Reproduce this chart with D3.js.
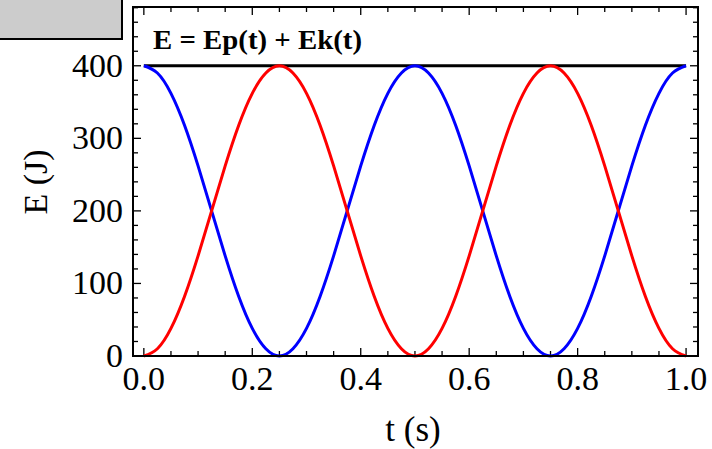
<!DOCTYPE html>
<html>
<head>
<meta charset="utf-8">
<script src="https://cdn.jsdelivr.net/npm/d3@7"></script>
<style>
  body { margin: 0; background: #fff; }
  svg { display: block; }
</style>
</head>
<body>
<svg id="chart" width="712" height="449"></svg>
<script>
// values, one every 0.025 s
var times = [0, 0.025, 0.05, 0.075, 0.1, 0.125, 0.15, 0.175, 0.2, 0.225,
    0.25, 0.275, 0.3, 0.325, 0.35, 0.375, 0.4, 0.425, 0.45, 0.475,
    0.5, 0.525, 0.55, 0.575, 0.6, 0.625, 0.65, 0.675, 0.7, 0.725,
    0.75, 0.775, 0.8, 0.825, 0.85, 0.875, 0.9, 0.925, 0.95, 0.975, 1.0];
var epValues = [400, 390, 362, 318, 262, 200, 138, 82, 38, 10,
    0, 10, 38, 82, 138, 200, 262, 318, 362, 390,
    400, 390, 362, 318, 262, 200, 138, 82, 38, 10,
    0, 10, 38, 82, 138, 200, 262, 318, 362, 390, 400];
var ekValues = [0, 10, 38, 82, 138, 200, 262, 318, 362, 390,
    400, 390, 362, 318, 262, 200, 138, 82, 38, 10,
    0, 10, 38, 82, 138, 200, 262, 318, 362, 390,
    400, 390, 362, 318, 262, 200, 138, 82, 38, 10, 0];
var totalValues = [400, 400];
var totalTimes = [0, 1];
var xTicks = [0, 0.2, 0.4, 0.6, 0.8, 1.0];
var yTicks = [0, 100, 200, 300, 400];
var titleText = "E = Ep(t) + Ek(t)";

var svg = d3.select("#chart");
var plotLeft = 133, plotRight = 698, plotTop = 7, plotBottom = 356;

var x = d3.scaleLinear().domain([-0.02, 1.022]).range([plotLeft, plotRight]);
var y = d3.scaleLinear().domain([0, 481]).range([plotBottom, plotTop]);

// grey box in the corner
svg.append("rect")
    .attr("x", -2).attr("y", -2)
    .attr("width", 124).attr("height", 41)
    .attr("fill", "#cccccc")
    .attr("stroke", "#000").attr("stroke-width", 2);

var serif = "'Liberation Serif', 'DejaVu Serif', serif";

// ticks, inward on all four sides
var xMinor = d3.range(0, 1.001, 0.05);
var yMinor = d3.range(0, 481, 20);

function isMajor(v, list) {
    return list.some(function (m) { return Math.abs(m - v) < 1e-6; });
}

var ticks = svg.append("g").attr("stroke", "#000").attr("stroke-width", 1.3);
xMinor.forEach(function (v) {
    var len = isMajor(v, xTicks) ? 8 : 5;
    ticks.append("line").attr("x1", x(v)).attr("x2", x(v))
        .attr("y1", plotBottom).attr("y2", plotBottom - len);
    ticks.append("line").attr("x1", x(v)).attr("x2", x(v))
        .attr("y1", plotTop).attr("y2", plotTop + len);
});
yMinor.forEach(function (v) {
    var len = isMajor(v, yTicks) ? 8 : 5;
    ticks.append("line").attr("y1", y(v)).attr("y2", y(v))
        .attr("x1", plotLeft).attr("x2", plotLeft + len);
    ticks.append("line").attr("y1", y(v)).attr("y2", y(v))
        .attr("x1", plotRight).attr("x2", plotRight - len);
});

// curves
var straight = d3.line()
    .x(function (d) { return x(d[0]); })
    .y(function (d) { return y(d[1]); });
var smooth = d3.line()
    .x(function (d) { return x(d[0]); })
    .y(function (d) { return y(d[1]); })
    .curve(d3.curveNatural);

svg.append("path")
    .datum(totalTimes.map(function (t, i) { return [t, totalValues[i]]; }))
    .attr("d", straight)
    .attr("fill", "none").attr("stroke", "#000").attr("stroke-width", 3);

svg.append("path")
    .datum(times.map(function (t, i) { return [t, epValues[i]]; }))
    .attr("d", smooth)
    .attr("fill", "none").attr("stroke", "#0000ff").attr("stroke-width", 3);

svg.append("path")
    .datum(times.map(function (t, i) { return [t, ekValues[i]]; }))
    .attr("d", smooth)
    .attr("fill", "none").attr("stroke", "#ff0000").attr("stroke-width", 3);

// frame
svg.append("rect")
    .attr("x", plotLeft).attr("y", plotTop)
    .attr("width", plotRight - plotLeft).attr("height", plotBottom - plotTop)
    .attr("fill", "none").attr("stroke", "#000").attr("stroke-width", 2);

// tick labels
svg.selectAll(".xl").data(xTicks).enter().append("text")
    .attr("x", function (d) { return x(d); })
    .attr("y", 390)
    .attr("text-anchor", "middle")
    .attr("font-family", serif).attr("font-size", 34)
    .text(function (d) { return d3.format(".1f")(d); });

svg.selectAll(".yl").data(yTicks).enter().append("text")
    .attr("x", 123)
    .attr("y", function (d) { return y(d) + 11; })
    .attr("text-anchor", "end")
    .attr("font-family", serif).attr("font-size", 34)
    .text(function (d) { return d; });

// axis titles
svg.append("text")
    .attr("transform", "translate(47,182) rotate(-90)")
    .attr("text-anchor", "middle")
    .attr("font-family", serif).attr("font-size", 34)
    .text("E (J)");

svg.append("text")
    .attr("x", 413).attr("y", 441)
    .attr("text-anchor", "middle")
    .attr("font-family", serif).attr("font-size", 35)
    .text("t (s)");

svg.append("text")
    .attr("x", 153).attr("y", 49)
    .attr("font-family", serif).attr("font-weight", "bold")
    .attr("font-size", 27)
    .attr("textLength", 209).attr("lengthAdjust", "spacingAndGlyphs")
    .text(titleText);
</script>
</body>
</html>
